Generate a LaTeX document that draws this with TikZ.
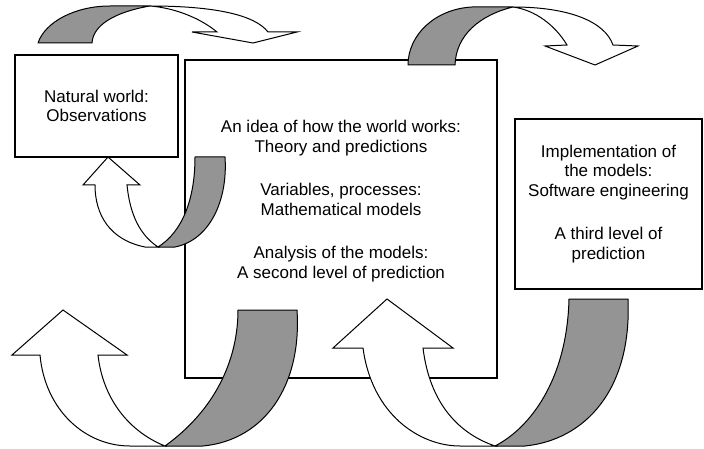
\documentclass[tikz,border=0pt]{standalone}
\usepackage{fontspec}
\setmainfont{Liberation Sans}

\begin{document}
\begin{tikzpicture}[x=1pt,y=-1pt,every node/.style={font=\fontsize{17}{19.5}\selectfont},
  box/.style={draw,line width=1.3pt,inner sep=0pt,align=center},
  txt/.style={inner sep=0pt,align=center},
  back/.style={draw,line width=1pt,line join=round,fill=black!42},
  front/.style={draw,line width=1pt,fill=white}]
\useasboundingbox (0,0) rectangle (704,449);
\node[box,minimum width=163pt,minimum height=102pt] (nature) at (96.5,106) {Natural world:\\Observations};
\node[box,minimum width=312pt,minimum height=318pt] (theory) at (341,219) {};
\node[txt] (ideas) at (341,201) {An idea of how the world works:\\Theory and predictions\\[24pt]Variables, processes:\\Mathematical models\\[24pt]Analysis of the models:\\A second level of prediction};
\node[box,minimum width=187pt,minimum height=170pt] (software) at (608.5,204) {Implementation of\\the models:\\Software engineering\\[24pt]A third level of\\prediction};
% top arrows
\draw[back] (38,43) .. controls (45,22) and (75,6) .. (110,6) -- (150,6) .. controls (115,12) and (93,25) .. (92,43) -- cycle;
\draw[front] (150,6) .. controls (215,6) and (255,15) .. (268,32) -- (297,32) -- (253,43) -- (192,32) -- (217,32) .. controls (200,18) and (175,8) .. (150,6) -- cycle;
\draw[back] (408,65) .. controls (408,35) and (435,9) .. (472,7) -- (513,7) .. controls (480,15) and (456,35) .. (455,65) -- cycle;
\draw[front] (513,7) .. controls (570,7) and (605,22) .. (613,45) -- (638,46) -- (595,65) -- (545,46) -- (567,45) .. controls (555,25) and (535,10) .. (513,7) -- cycle;
% back to the observations
\draw[back] (195,157) -- (225,157) .. controls (228,200) and (210,240) .. (175,247) -- (158,247) .. controls (182,232) and (195,200) .. (195,157) -- cycle;
\draw[front] (127,185) .. controls (130,215) and (140,235) .. (158,247) -- (145,247) .. controls (110,240) and (95,215) .. (95,185) -- (83,185) -- (108,157) -- (140,185) -- cycle;
% bottom arrows
\draw[back] (238,310) -- (297,310) .. controls (302,385) and (265,440) .. (203,446) -- (165,446) .. controls (215,410) and (238,360) .. (238,310) -- cycle;
\draw[front] (98,355) .. controls (103,400) and (130,432) .. (165,446) -- (130,446) .. controls (85,446) and (45,410) .. (40,355) -- (12,355) -- (63,310) -- (127,355) -- cycle;
\draw[back] (569,299) -- (628,299) .. controls (632,390) and (585,440) .. (525,446) -- (495,446) .. controls (530,428) and (567,380) .. (569,299) -- cycle;
\draw[front] (423,348) .. controls (430,405) and (460,434) .. (495,446) -- (460,446) .. controls (420,446) and (372,415) .. (363,348) -- (333,348) -- (387,299) -- (453,348) -- cycle;
\end{tikzpicture}
\end{document}
